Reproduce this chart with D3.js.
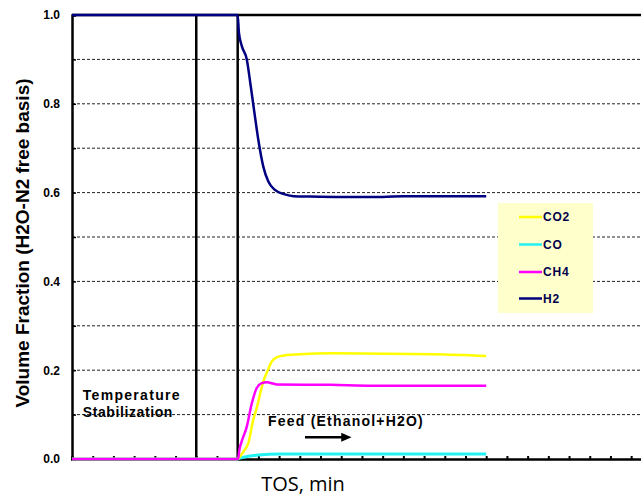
<!DOCTYPE html>
<html>
<head>
<meta charset="utf-8">
<script src="https://cdn.jsdelivr.net/npm/d3@7"></script>
<style>
  html, body { margin: 0; padding: 0; background: #fff; }
  svg { display: block; }
</style>
</head>
<body>
<svg id="chart" width="641" height="498"></svg>
<script>
// ---------- data ----------
const yTickLabels = ["0.0", "0.2", "0.4", "0.6", "0.8", "1.0"];
const yTickValues = [0, 0.2, 0.4, 0.6, 0.8, 1.0];
const yGridValues = [0.1, 0.2, 0.3, 0.4, 0.5, 0.6, 0.7, 0.8, 0.9];
const xMinorTicks = [10, 20, 30, 40, 50, 60, 70, 80, 90, 100, 110, 120, 130, 140, 150, 160, 170, 180, 190, 200, 210, 220, 230, 240, 250, 260, 270];
const markerLines = [60, 80]; // temperature stabilization / feed start

const seriesNames = ["CO2", "CO", "CH4", "H2"];
const seriesColors = ["#ffff00", "#22f2f2", "#ff00ff", "#000080"];

const h2T = [0, 80, 80.6, 82, 84.4, 86.3, 87.9, 90, 92.4, 94.8, 98, 102, 107, 115, 130, 150, 160, 180, 200];
const h2V = [1, 1, 0.96, 0.93, 0.90, 0.84, 0.786, 0.718, 0.658, 0.625, 0.606, 0.597, 0.592, 0.591, 0.590, 0.590, 0.592, 0.592, 0.592];

const co2T = [0, 80, 81.1, 83, 85.1, 87.5, 89.2, 92.4, 94.3, 96.4, 98.8, 103.7, 110, 125, 150, 175, 200];
const co2V = [0, 0, 0.005, 0.018, 0.035, 0.088, 0.115, 0.175, 0.197, 0.219, 0.229, 0.234, 0.236, 0.238, 0.237, 0.236, 0.232];

const ch4T = [0, 80, 80.3, 80.8, 81.9, 84.4, 86.8, 89.2, 91.6, 94, 98.8, 125, 145, 200];
const ch4V = [0, 0, 0.002, 0.02, 0.039, 0.073, 0.125, 0.16, 0.171, 0.173, 0.168, 0.167, 0.165, 0.165];

const coT = [0, 80, 81, 85, 90, 100, 130, 200];
const coV = [0, 0, 0.002, 0.006, 0.009, 0.011, 0.011, 0.011];

// ---------- layout ----------
const svg = d3.select("#chart");
const W = 641, H = 498;
const mLeft = 72, mTop = 15, mBottom = 459;
const tickStep = 20.71;

const x = d3.scaleLinear().domain([0, 280]).range([mLeft, mLeft + 28 * tickStep]);
const y = d3.scaleLinear().domain([0, 1]).range([mBottom, mTop]);

const boldFont = "'Liberation Sans', Arial, sans-serif";

// gridlines
svg.append("g").selectAll("line").data(yGridValues).join("line")
  .attr("x1", mLeft).attr("x2", W)
  .attr("y1", d => y(d)).attr("y2", d => y(d))
  .attr("stroke", "#222").attr("stroke-width", 1)
  .attr("stroke-dasharray", "3,2");

// top frame line
svg.append("line")
  .attr("x1", mLeft).attr("x2", W).attr("y1", y(1)).attr("y2", y(1))
  .attr("stroke", "#000").attr("stroke-width", 2.5);

// marker vertical lines
svg.append("g").selectAll("line").data(markerLines).join("line")
  .attr("x1", d => x(d)).attr("x2", d => x(d))
  .attr("y1", y(1)).attr("y2", y(0))
  .attr("stroke", "#000").attr("stroke-width", 2.5);

// y axis
const yAxis = d3.axisLeft(y).tickValues(yGridValues.concat([0, 1])).tickSize(-4).tickFormat("");
const gy = svg.append("g").attr("transform", `translate(${mLeft},0)`).call(yAxis);
gy.select(".domain").attr("stroke", "#000").attr("stroke-width", 2.5);
gy.selectAll(".tick line").attr("stroke", "#000").attr("stroke-width", 1.5);

svg.append("g").selectAll("text").data(yTickValues).join("text")
  .attr("x", 60).attr("y", d => y(d)).attr("dy", "0.36em")
  .attr("text-anchor", "end")
  .attr("font-family", boldFont).attr("font-weight", "bold").attr("font-size", 12)
  .attr("fill", "#000")
  .text((d, i) => yTickLabels[i]);

// x axis
const xAxis = d3.axisBottom(x).tickValues(xMinorTicks).tickSize(-3).tickFormat("");
const gx = svg.append("g").attr("transform", `translate(0,${mBottom})`).call(xAxis);
gx.select(".domain").attr("stroke", "#000").attr("stroke-width", 2.5);
gx.selectAll(".tick line").attr("stroke", "#000").attr("stroke-width", 2);

// series
const line = d3.line().x(d => x(d[0])).y(d => y(d[1])).curve(d3.curveMonotoneX);
const zipS = (t, v) => t.map((d, i) => [d, v[i]]);
const series = [
  { name: "CO", t: coT, v: coV, c: seriesColors[1], w: 3 },
  { name: "CO2", t: co2T, v: co2V, c: seriesColors[0], w: 2.5 },
  { name: "CH4", t: ch4T, v: ch4V, c: seriesColors[2], w: 2.5 },
  { name: "H2", t: h2T, v: h2V, c: seriesColors[3], w: 2.5 }
];
svg.append("g").selectAll("path").data(series).join("path")
  .attr("d", s => line(zipS(s.t, s.v)))
  .attr("fill", "none")
  .attr("stroke", s => s.c)
  .attr("stroke-width", s => s.w)
  .attr("stroke-linejoin", "round");

// legend
const lg = svg.append("g");
lg.append("rect").attr("x", 498).attr("y", 203).attr("width", 95).attr("height", 110)
  .attr("fill", "#ffffcc");
const legendY = [217, 244.5, 272, 298.5];
seriesNames.forEach((n, i) => {
  lg.append("line").attr("x1", 519).attr("x2", 542)
    .attr("y1", legendY[i]).attr("y2", legendY[i])
    .attr("stroke", seriesColors[i]).attr("stroke-width", 2.5);
  lg.append("text").attr("x", 543).attr("y", legendY[i]).attr("dy", "0.36em")
    .attr("font-family", boldFont).attr("font-weight", "bold").attr("font-size", 12)
    .attr("letter-spacing", "0.8")
    .attr("fill", "#00004d").text(n);
});

// annotations
const ann = svg.append("g").attr("font-family", boldFont).attr("font-weight", "bold").attr("fill", "#000");
ann.append("text").attr("x", x(5.2)).attr("y", y(0.133)).attr("font-size", 14)
  .attr("letter-spacing", "1.3").text("Temperature");
ann.append("text").attr("x", x(5.2)).attr("y", y(0.095)).attr("font-size", 14)
  .attr("letter-spacing", "0.6").text("Stabilization");
ann.append("text").attr("x", x(94.7)).attr("y", y(0.074)).attr("font-size", 14)
  .attr("letter-spacing", "1.2").text("Feed (Ethanol+H2O)");

// arrow
ann.append("line").attr("x1", x(112.5)).attr("x2", x(131)).attr("y1", y(0.049)).attr("y2", y(0.049))
  .attr("stroke", "#000").attr("stroke-width", 2.5);
ann.append("path")
  .attr("d", `M${x(135)},${y(0.049)} L${x(130)},${y(0.049) - 4.5} L${x(130)},${y(0.049) + 4.5} Z`)
  .attr("fill", "#000");

// y axis title
svg.append("text")
  .attr("transform", `translate(29,${(mTop + mBottom) / 2 + 6}) rotate(-90)`)
  .attr("text-anchor", "middle")
  .attr("font-family", boldFont).attr("font-weight", "bold").attr("font-size", 19)
  .attr("fill", "#000")
  .text("Volume Fraction (H2O-N2 free basis)");

// x axis title
svg.append("text")
  .attr("x", 303).attr("y", 491)
  .attr("text-anchor", "middle")
  .attr("font-family", "'Open Sans', sans-serif").attr("font-size", 20)
  .attr("fill", "#000")
  .text("TOS, min");
</script>
</body>
</html>
